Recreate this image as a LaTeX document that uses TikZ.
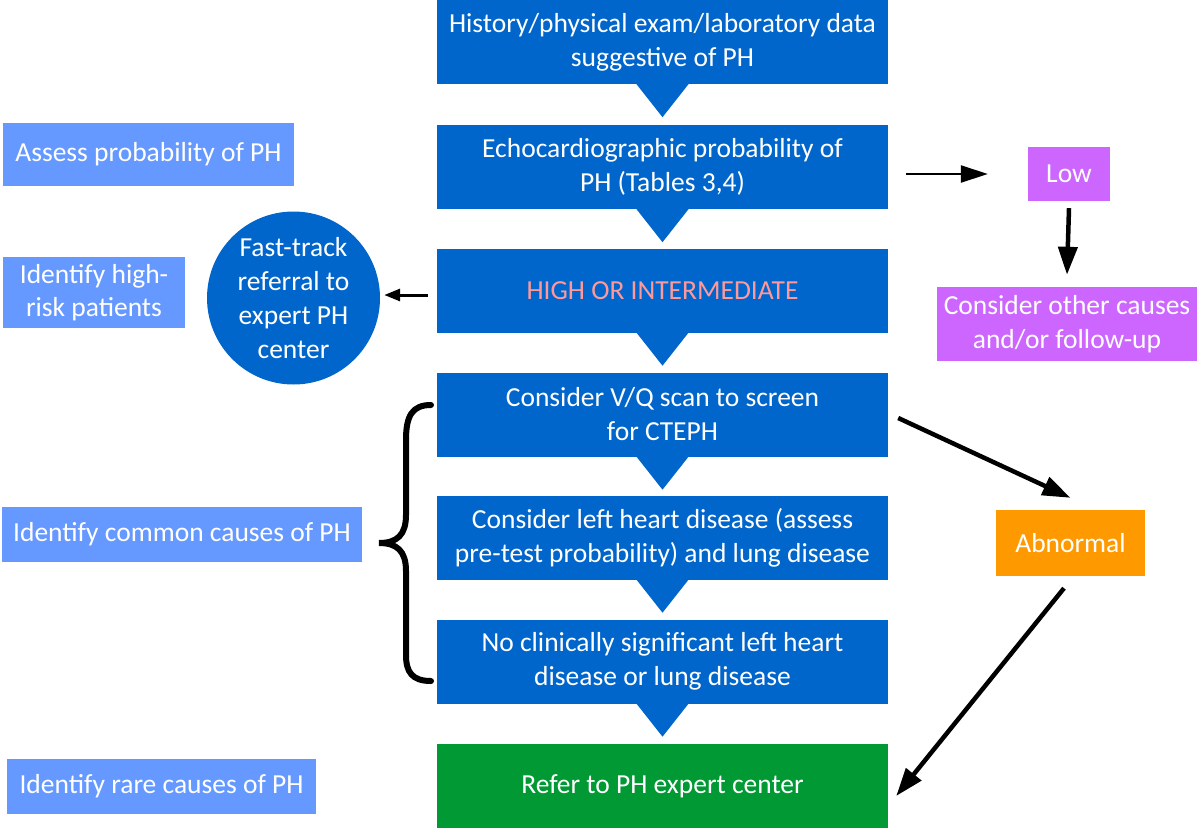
\documentclass[tikz,border=0pt]{standalone}
\usepackage{fontspec}
\setmainfont{Carlito}
\usetikzlibrary{arrows.meta}
\definecolor{mainblue}{RGB}{0,102,204}
\definecolor{labblue}{RGB}{102,153,255}
\definecolor{lowpurple}{RGB}{204,102,255}
\definecolor{abnorange}{RGB}{255,153,0}
\definecolor{refgreen}{RGB}{0,153,51}
\definecolor{salmon}{RGB}{255,153,153}
\begin{document}
\begin{tikzpicture}[x=1pt,y=-1pt,
  txt/.style={font=\fontsize{27.5}{34}\selectfont, text=white, align=center, inner sep=0pt},
  mainbox/.style={txt, fill=mainblue, minimum width=451pt, minimum height=84pt},
  labbox/.style={txt, fill=labblue},
  chev/.style={fill=mainblue},
  bigarr/.style={draw=black, line width=4.5pt, -{Triangle[length=28pt,width=19pt]}},
  medarr/.style={draw=black, line width=2.5pt, -{Triangle[length=27pt,width=17pt]}},
  smallarr/.style={draw=black, line width=3pt, -{Triangle[length=16pt,width=12pt]}},
  brace/.style={draw=black, line width=6pt, line cap=round}
]
\useasboundingbox (0,0) rectangle (1200,830);

% main column
\node[mainbox] (b1) at (662.5,42) {History/physical exam/laboratory data\\suggestive of PH};
\node[mainbox] (b2) at (662.5,167) {Echocardiographic probability of\\PH (Tables 3,4)};
\node[mainbox, text=salmon] (b3) at (662.5,290.5) {HIGH OR INTERMEDIATE};
\node[mainbox] (b4) at (662.5,414.5) {Consider V/Q scan to screen\\for CTEPH};
\node[mainbox] (b5) at (662.5,537.5) {Consider left heart disease (assess\\pre-test probability) and lung disease};
\node[mainbox] (b6) at (662.5,661.5) {No clinically significant left heart\\disease or lung disease};
\node[mainbox, fill=refgreen] (b7) at (662.5,786) {Refer to PH expert center};

% chevron tips under the boxes
\foreach \n in {b1,b2,b3,b4,b5,b6}{
  \fill[chev] ([xshift=-26pt]\n.south) -- ([xshift=26pt]\n.south) -- ([yshift=-33pt]\n.south) -- cycle;
}

% left labels
\node[labbox, minimum width=291pt, minimum height=63pt] (l1) at (148.5,154.5) {Assess probability of PH};
\node[labbox, minimum width=182pt, minimum height=71pt, font=\fontsize{27.5}{33}\selectfont] (l2) at (94,292.5) {Identify high-\\risk patients};
\node[labbox, minimum width=360pt, minimum height=55pt] (l3) at (182,534.5) {Identify common causes of PH};
\node[labbox, minimum width=309pt, minimum height=55pt] (l4) at (161.5,786.5) {Identify rare causes of PH};

% fast-track circle
\node[txt, circle, fill=mainblue, minimum size=173pt] (circ) at (293.5,298) {Fast-track\\referral to\\expert PH\\center};

% right side boxes
\node[txt, fill=lowpurple, minimum width=82pt, minimum height=54pt] (low) at (1069,174) {Low};
\node[txt, fill=lowpurple, minimum width=260pt, minimum height=74pt] (oth) at (1067,324) {Consider other causes\\and/or follow-up};
\node[txt, fill=abnorange, minimum width=149pt, minimum height=66pt] (abn) at (1070.5,543) {Abnormal};

% connectors
\draw[medarr] ([xshift=18pt]b2.east |- low.west) -- ([xshift=-40pt]low.west);
\draw[bigarr] ([yshift=-7pt]low.south) -- ([yshift=12pt]oth.north);
\draw[smallarr] ([xshift=-9pt,yshift=-4.5pt]b3.west) -- ([xshift=4pt,yshift=-4.5pt]circ.east |- b3.west);
\draw[bigarr] ([xshift=10pt,yshift=-3.5pt]b4.east) -- ([yshift=12pt]abn.north);
\draw[bigarr] ([xshift=-6.5pt,yshift=-12pt]abn.south) -- ([xshift=8pt,yshift=-10pt]b7.east);

% brace
\draw[brace] (431,405) .. controls (412,405) and (406,416) .. (406,440) -- (406,515)
  .. controls (406,535) and (397,543) .. (379,543)
  .. controls (397,543) and (406,551) .. (406,571) -- (406,655)
  .. controls (406,672) and (412,681) .. (431,681);
\end{tikzpicture}
\end{document}
